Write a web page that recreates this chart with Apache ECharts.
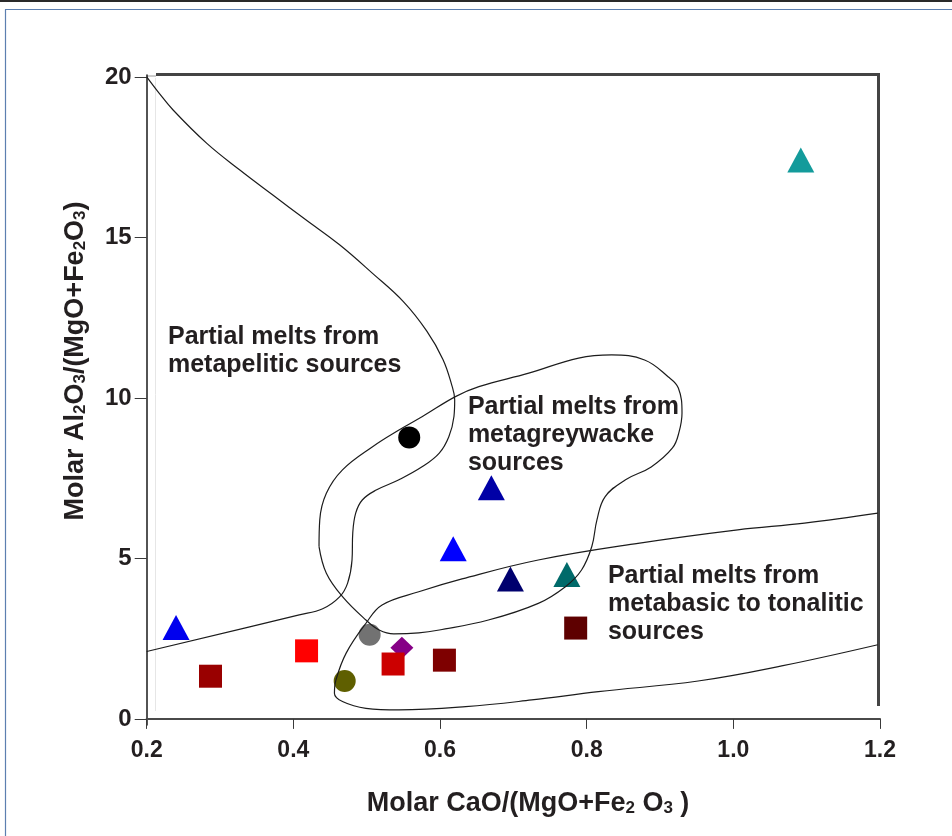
<!DOCTYPE html>
<html>
<head>
<meta charset="utf-8">
<script src="https://cdn.jsdelivr.net/npm/echarts@6/dist/echarts.min.js"></script>
<style>
  html, body { margin: 0; padding: 0; background: #ffffff; }
  #chart { width: 952px; height: 836px; }
</style>
</head>
<body>
<div id="chart"></div>
<script>
// Sample ratios: molar CaO/(MgO+Fe2O3) and molar Al2O3/(MgO+Fe2O3)
const caoRatio = [1.092, 0.558, 0.670, 0.618, 0.696, 0.773, 0.785, 0.240, 0.504, 0.548, 0.418, 0.606, 0.536, 0.287, 0.470];
const alRatio  = [17.41, 8.77, 7.20, 5.30, 4.36, 4.50, 2.83, 2.85, 2.62, 2.22, 2.12, 1.83, 1.71, 1.33, 1.18];

// Marker styling for each sample (kept apart from the values)
const markerShape = ['triangle', 'circle', 'triangle', 'triangle', 'triangle', 'triangle', 'rect', 'triangle',
                     'circle', 'diamond', 'rect', 'rect', 'rect', 'rect', 'circle'];
const markerColor = ['#139b9b', '#000000', '#0000a6', '#0000ff', '#00006e', '#006a6a', '#5e0000', '#0000ee',
                     '#727272', '#860086', '#ff0000', '#7e0000', '#cc0000', '#990000', '#5f5f00'];

// Axis ticks
const xTicks = [0.2, 0.4, 0.6, 0.8, 1.0, 1.2];
const yTicks = [0, 5, 10, 15, 20];

// Source-field boundaries [CaO ratio, Al2O3 ratio]
const metapeliticField = [
  [0.200, 20.00], [0.215, 19.55], [0.236, 18.97], [0.282, 17.93], [0.327, 17.10],
  [0.372, 16.32], [0.417, 15.55], [0.463, 14.77], [0.508, 13.88], [0.550, 13.00], [0.582, 12.08],
  [0.604, 11.20], [0.616, 10.40], [0.620, 9.94], [0.619, 9.42], [0.612, 8.79], [0.599, 8.28],
  [0.576, 7.86], [0.544, 7.45], [0.513, 7.13], [0.494, 6.82], [0.485, 6.41], [0.481, 5.79],
  [0.480, 4.95], [0.474, 4.23], [0.463, 3.80], [0.440, 3.43], [0.408, 3.24], [0.200, 2.10]
];
const metagreywackeField = [
  [0.435, 5.37], [0.436, 6.20], [0.445, 7.03], [0.467, 7.76], [0.508, 8.48], [0.544, 9.00],
  [0.576, 9.42], [0.621, 10.04], [0.653, 10.35], [0.721, 10.77], [0.789, 11.24], [0.834, 11.34],
  [0.879, 11.18], [0.911, 10.66], [0.925, 10.31], [0.930, 9.53], [0.926, 8.94], [0.917, 8.44],
  [0.888, 7.85], [0.853, 7.45], [0.825, 6.92], [0.814, 6.20], [0.807, 5.37], [0.793, 4.64],
  [0.771, 4.12], [0.734, 3.60], [0.666, 3.08], [0.599, 2.77], [0.571, 2.68], [0.537, 2.65],
  [0.517, 2.77], [0.499, 3.08], [0.467, 3.81], [0.445, 4.54], [0.435, 5.37]
];
const metabasicField = [
  [1.197, 6.41], [1.097, 6.10], [1.006, 5.89], [0.870, 5.47], [0.734, 4.95], [0.630, 4.36],
  [0.571, 3.96], [0.521, 3.55], [0.499, 2.98], [0.472, 2.05], [0.458, 1.21], [0.456, 0.80],
  [0.467, 0.54], [0.499, 0.33], [0.544, 0.28], [0.635, 0.38], [0.725, 0.59], [0.816, 0.85],
  [0.952, 1.18], [1.066, 1.65], [1.197, 2.31]
];

// Field captions and the point each one is anchored at (left edge, first line)
const fieldLabels = [
  'Partial melts from\nmetapelitic sources',
  'Partial melts from\nmetagreywacke\nsources',
  'Partial melts from\nmetabasic to tonalitic\nsources'
];
const fieldLabelAnchor = [[0.229, 11.96], [0.638, 9.78], [0.829, 4.52]];

const FONT = '"Liberation Sans", Arial, Helvetica, sans-serif';
const symbolSizeOf = { triangle: [27, 25], rect: [23, 23], circle: 22, diamond: [23, 22] };

const chart = echarts.init(document.getElementById('chart'), null, { renderer: 'canvas' });

const sampleData = caoRatio.map((x, i) => ({
  value: [x, alRatio[i]],
  symbol: markerShape[i],
  symbolSize: symbolSizeOf[markerShape[i]],
  itemStyle: { color: markerColor[i], opacity: 1 }
}));

const fieldLine = (data) => ({
  type: 'line',
  data: data,
  showSymbol: false,
  symbol: 'none',
  smooth: 0.4,
  silent: true,
  z: 3,
  lineStyle: { color: '#1c1c1c', width: 1.2 }
});

chart.setOption({
  animation: false,
  backgroundColor: '#ffffff',
  grid: { left: 146.7, right: 72, top: 75, bottom: 111 },
  xAxis: {
    type: 'value',
    min: 0.2,
    max: 1.2,
    interval: 0.2,
    axisLine: { show: true, lineStyle: { color: '#4a4a4a', width: 2 } },
    axisTick: { show: true, inside: false, length: 10, lineStyle: { color: '#3a3a3a', width: 1 } },
    axisLabel: {
      margin: 14,
      fontFamily: FONT, fontWeight: 'bold', fontSize: 23, color: '#231f20',
      formatter: (v) => xTicks.some(t => Math.abs(t - v) < 1e-6) ? v.toFixed(1) : ''
    },
    splitLine: { show: false }
  },
  yAxis: {
    type: 'value',
    min: -0.19,
    max: 20.06,
    axisLine: { show: true, lineStyle: { color: '#1a1a1a', width: 1.5 } },
    axisTick: { show: true, inside: false, length: 12, customValues: yTicks, lineStyle: { color: '#3a3a3a', width: 1 } },
    axisLabel: {
      margin: 15, customValues: yTicks,
      fontFamily: FONT, fontWeight: 'bold', fontSize: 24, color: '#231f20'
    },
    splitLine: { show: false }
  },
  series: [
    fieldLine(metapeliticField),
    fieldLine(metagreywackeField),
    fieldLine(metabasicField),
    {
      type: 'scatter',
      data: sampleData,
      z: 2,
      silent: true,
      itemStyle: { opacity: 1 }
    }
  ]
});

// Frame, outer border, captions and axis titles
function decorate() {
  const px = (p) => chart.convertToPixel({ gridIndex: 0 }, p);
  const graphics = [];

  // outer border of the figure
  graphics.push({ type: 'rect', shape: { x: 0, y: 0, width: 952, height: 2 }, style: { fill: '#2a2a2a' }, silent: true });
  graphics.push({ type: 'line', shape: { x1: 5, y1: 9.5, x2: 952, y2: 9.5 }, style: { stroke: '#5c7fb0', lineWidth: 1.2 }, silent: true });
  graphics.push({ type: 'line', shape: { x1: 5.5, y1: 9.5, x2: 5.5, y2: 836 }, style: { stroke: '#5c7fb0', lineWidth: 1.2 }, silent: true });

  // plot frame: top and right edges
  graphics.push({ type: 'line', shape: { x1: 146.7, y1: 76, x2: 156, y2: 76 }, style: { stroke: '#9a9a9a', lineWidth: 1 }, silent: true });
  graphics.push({ type: 'line', shape: { x1: 156, y1: 74.5, x2: 879.5, y2: 74.5 }, style: { stroke: '#444444', lineWidth: 3 }, silent: true });
  graphics.push({ type: 'line', shape: { x1: 878.5, y1: 73, x2: 878.5, y2: 706 }, style: { stroke: '#444444', lineWidth: 3 }, silent: true });
  graphics.push({ type: 'line', shape: { x1: 155.5, y1: 78, x2: 155.5, y2: 711 }, style: { stroke: '#e6e6e6', lineWidth: 1 }, silent: true });

  // field captions
  fieldLabels.forEach((txt, i) => {
    const p = px(fieldLabelAnchor[i]);
    graphics.push({
      type: 'text', silent: true, z: 10,
      x: p[0], y: p[1] - 12,
      style: {
        text: txt, fontFamily: FONT, fontWeight: 'bold', fontSize: 25, lineHeight: 28,
        fill: '#231f20', align: 'left', verticalAlign: 'top'
      }
    });
  });

  const titleRich = {
    n: { fontFamily: FONT, fontWeight: 'bold', fontSize: 27, lineHeight: 34, fill: '#231f20', verticalAlign: 'bottom' },
    s: { fontFamily: FONT, fontWeight: 'bold', fontSize: 17, lineHeight: 17, fill: '#231f20', verticalAlign: 'bottom' }
  };

  // x axis title
  graphics.push({
    type: 'text', silent: true, z: 10,
    x: 528, y: 800,
    style: {
      text: '{n|Molar CaO/(MgO+Fe}{s|2}{n| O}{s|3}{n| )}',
      rich: titleRich, align: 'center', verticalAlign: 'middle'
    }
  });
  // y axis title
  graphics.push({
    type: 'text', silent: true, z: 10,
    x: 72, y: 361, rotation: Math.PI / 2,
    style: {
      text: '{n|Molar Al}{s|2}{n|O}{s|3}{n|/(MgO+Fe}{s|2}{n|O}{s|3}{n|)}',
      rich: titleRich, align: 'center', verticalAlign: 'middle'
    }
  });

  chart.setOption({ graphic: graphics });
}
decorate();
</script>
</body>
</html>
